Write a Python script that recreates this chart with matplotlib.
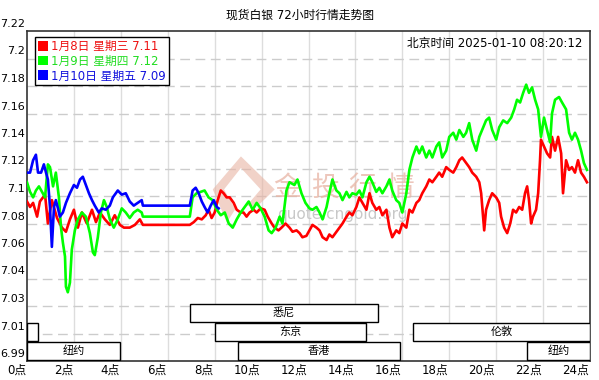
import matplotlib
matplotlib.use('Agg')
import matplotlib.pyplot as plt
from matplotlib.patches import Rectangle, Patch, Polygon
from matplotlib.transforms import ScaledTranslation

plt.rcParams['font.family'] = ['DejaVu Sans', 'Noto Sans CJK SC']

# 1月8日 (红)
red_h = [0, 0.13, 0.26, 0.43, 0.55, 0.77, 0.89, 1.06, 1.28, 1.49, 1.66, 1.83, 2.0, 2.17, 2.34,
         2.55, 2.77, 2.94, 3.11, 3.32, 3.53, 3.74, 3.96, 4.13, 4.38, 4.6, 4.81, 4.94, 6.94,
         7.11, 7.28, 7.45, 7.62, 7.74, 7.87, 8.0, 8.13, 8.26, 8.38, 8.51, 8.64, 8.81, 8.94,
         9.11, 9.23, 9.36, 9.49, 9.66, 9.79, 9.96, 10.13, 10.26, 10.43, 10.55, 10.72, 10.85,
         11.02, 11.19, 11.32, 11.49, 11.62, 11.74, 11.91, 12.04, 12.17, 12.34, 12.47, 12.6,
         12.77, 12.89, 13.02, 13.19, 13.32, 13.45, 13.62, 13.74, 13.87, 14.04, 14.17, 14.3,
         14.47, 14.6, 14.72, 14.89, 15.02, 15.15, 15.32, 15.45, 15.57, 15.74, 15.87, 16.0,
         16.17, 16.3, 16.43, 16.6, 16.72, 16.85, 17.02, 17.15, 17.28, 17.45, 17.57, 17.7,
         17.87, 18.0, 18.17, 18.3, 18.43, 18.55, 18.72, 18.85, 18.98, 19.15, 19.28, 19.36,
         19.45, 19.49, 19.57, 19.7, 19.83, 20.0, 20.13, 20.21, 20.34, 20.47, 20.6, 20.72,
         20.85, 20.98, 21.11, 21.23, 21.32, 21.4, 21.49, 21.57, 21.7, 21.79, 21.87, 21.91,
         22.04, 22.17, 22.3, 22.38, 22.51, 22.64, 22.77, 22.85, 22.98, 23.11, 23.23, 23.36,
         23.49, 23.62, 23.74, 23.87]
red_p = [7.096, 7.092, 7.095, 7.085, 7.096, 7.101, 7.080, 7.097, 7.084, 7.077, 7.074, 7.083,
         7.090, 7.077, 7.088, 7.080, 7.090, 7.081, 7.088, 7.083, 7.079, 7.086, 7.079, 7.077,
         7.077, 7.079, 7.083, 7.079, 7.079,
         7.081, 7.084, 7.083, 7.086, 7.090, 7.084, 7.088, 7.097, 7.104, 7.102, 7.099, 7.099,
         7.095, 7.090, 7.088, 7.088, 7.085, 7.088, 7.090, 7.088, 7.091, 7.090, 7.085, 7.080,
         7.077, 7.075, 7.077, 7.080, 7.077, 7.074, 7.075, 7.073, 7.070, 7.071, 7.075, 7.079,
         7.077, 7.075, 7.070, 7.068, 7.072, 7.070, 7.074, 7.077, 7.080, 7.085, 7.088, 7.086,
         7.092, 7.099, 7.095, 7.090, 7.102, 7.095, 7.090, 7.092, 7.086, 7.090, 7.077, 7.070,
         7.075, 7.073, 7.080, 7.077, 7.090, 7.088, 7.095, 7.097, 7.102, 7.107, 7.112, 7.110,
         7.114, 7.117, 7.114, 7.121, 7.119, 7.117, 7.121, 7.126, 7.128, 7.124, 7.121, 7.117,
         7.114, 7.110, 7.102, 7.083, 7.075, 7.090, 7.097, 7.102, 7.099, 7.095, 7.085, 7.077,
         7.073, 7.080, 7.090, 7.088, 7.092, 7.090, 7.102, 7.107, 7.097, 7.080, 7.085, 7.090,
         7.102, 7.126, 7.141, 7.136, 7.131, 7.128, 7.143, 7.133, 7.143, 7.131, 7.102, 7.126,
         7.119, 7.121, 7.117, 7.126, 7.117, 7.114, 7.110]

# 1月9日 (绿)
green_h = [0, 0.13, 0.26, 0.38, 0.51, 0.64, 0.77, 0.89, 0.98, 1.11, 1.23, 1.36, 1.45, 1.53,
           1.62, 1.66, 1.74, 1.83, 1.91, 2.04, 2.17, 2.34, 2.51, 2.68, 2.81, 2.89, 3.02, 3.15,
           3.28, 3.4, 3.53, 3.7, 3.87, 4.04, 4.21, 4.38, 4.55, 4.72, 4.89, 4.94, 6.94,
           7.06, 7.23, 7.4, 7.57, 7.74, 7.91, 8.09, 8.26, 8.43, 8.6, 8.77, 8.94, 9.11, 9.28,
           9.45, 9.62, 9.79, 9.96, 10.13, 10.3, 10.43, 10.6, 10.77, 10.89, 11.06, 11.19, 11.4,
           11.53, 11.7, 11.87, 12.04, 12.17, 12.34, 12.47, 12.6, 12.77, 12.89, 13.02, 13.19,
           13.32, 13.45, 13.62, 13.74, 13.87, 14.04, 14.17, 14.3, 14.47, 14.6, 14.72, 14.89,
           15.02, 15.15, 15.32, 15.45, 15.57, 15.74, 15.87, 16.0, 16.17, 16.3, 16.43, 16.6,
           16.72, 16.85, 17.02, 17.15, 17.28, 17.45, 17.57, 17.7, 17.87, 18.0, 18.17, 18.3,
           18.43, 18.6, 18.72, 18.85, 18.98, 19.15, 19.28, 19.45, 19.57, 19.7, 19.83, 20.0,
           20.13, 20.3, 20.47, 20.64, 20.77, 20.89, 21.02, 21.15, 21.28, 21.4, 21.53, 21.66,
           21.79, 21.91, 22.04, 22.17, 22.3, 22.38, 22.51, 22.68, 22.81, 22.98, 23.11, 23.23,
           23.36, 23.49, 23.62, 23.74, 23.87]
green_p = [7.110, 7.103, 7.099, 7.104, 7.107, 7.103, 7.099, 7.123, 7.121, 7.107, 7.117, 7.099,
           7.077, 7.066, 7.056, 7.034, 7.030, 7.037, 7.061, 7.075, 7.083, 7.088, 7.085, 7.073,
           7.059, 7.057, 7.070, 7.088, 7.097, 7.092, 7.083, 7.077, 7.083, 7.091, 7.088, 7.084,
           7.088, 7.090, 7.088, 7.085, 7.085,
           7.099, 7.102, 7.103, 7.104, 7.099, 7.097, 7.090, 7.086, 7.088, 7.080, 7.077, 7.083,
           7.088, 7.092, 7.096, 7.090, 7.095, 7.091, 7.085, 7.075, 7.073, 7.077, 7.085, 7.080,
           7.104, 7.110, 7.108, 7.112, 7.102, 7.095, 7.091, 7.090, 7.092, 7.088, 7.083, 7.092,
           7.102, 7.112, 7.104, 7.102, 7.097, 7.103, 7.099, 7.102, 7.101, 7.104, 7.099, 7.110,
           7.114, 7.110, 7.103, 7.106, 7.102, 7.107, 7.112, 7.104, 7.097, 7.095, 7.088, 7.102,
           7.119, 7.128, 7.136, 7.131, 7.136, 7.128, 7.133, 7.128, 7.136, 7.139, 7.128, 7.133,
           7.143, 7.146, 7.141, 7.148, 7.143, 7.146, 7.153, 7.141, 7.133, 7.143, 7.150, 7.155,
           7.157, 7.148, 7.141, 7.150, 7.155, 7.153, 7.157, 7.163, 7.170, 7.168, 7.175, 7.181,
           7.175, 7.179, 7.170, 7.163, 7.143, 7.157, 7.148, 7.139, 7.160, 7.170, 7.172, 7.168,
           7.163, 7.146, 7.141, 7.146, 7.141, 7.133, 7.124, 7.119]

# 1月10日 (蓝)
blue_h = [0, 0.13, 0.26, 0.38, 0.47, 0.6, 0.72, 0.81, 0.89, 0.98, 1.06, 1.15, 1.23, 1.32,
          1.4, 1.53, 1.66, 1.83, 2.0, 2.13, 2.26, 2.38, 2.51, 2.64, 2.77, 2.89, 3.06, 3.19,
          3.36, 3.53, 3.66, 3.87, 4.04, 4.21, 4.38, 4.55, 4.72, 4.89, 4.94, 6.94,
          7.06, 7.19, 7.32, 7.45, 7.57, 7.7, 7.83, 7.96, 8.09, 8.17]
blue_p = [7.117, 7.117, 7.126, 7.130, 7.117, 7.117, 7.123, 7.117, 7.112, 7.092, 7.063, 7.092,
          7.097, 7.091, 7.085, 7.088, 7.095, 7.102, 7.108, 7.106, 7.112, 7.114, 7.108, 7.102,
          7.097, 7.093, 7.088, 7.091, 7.090, 7.093, 7.099, 7.104, 7.101, 7.102, 7.096, 7.093,
          7.095, 7.097, 7.093, 7.093,
          7.104, 7.106, 7.102, 7.096, 7.092, 7.088, 7.093, 7.097, 7.092, 7.091]

legend_labels = ['1月8日 星期三 7.11', '1月9日 星期四 7.12', '1月10日 星期五 7.09']
colors = ['#ff0000', '#00ff00', '#0000ff']
text_colors = ['#ee1111', '#22dd22', '#1111dd']

yticks = [6.98, 7.00, 7.02, 7.04, 7.06, 7.08, 7.10, 7.12, 7.14, 7.16, 7.18, 7.20, 7.22]
ytick_labels = ['6.99', '7.01', '7.03', '7.04', '7.06', '7.08', '7.1', '7.12', '7.14',
                '7.16', '7.18', '7.2', '7.22']
xticks = list(range(0, 25, 2))
xtick_labels = [str(h) + '点' for h in xticks]

# 交易时段 (名称, 开始, 结束, 行)
sessions = [('悉尼', 6.95, 14.95, 0),
            ('', 0, 0.47, 1), ('东京', 8.0, 14.45, 1), ('伦敦', 16.47, 24, 1),
            ('纽约', 0, 3.96, 2), ('香港', 9.0, 15.9, 2), ('纽约', 21.3, 24, 2)]
row_tops = [7.0215, 7.0077, 6.9939]
row_height = 0.0131

fig = plt.figure(figsize=(5.99, 3.80), dpi=100)
ax = fig.add_axes([27 / 599, 19 / 380, 563 / 599, 330 / 380])

ax.set_xlim(0, 24)
ax.set_ylim(6.98, 7.22)

for x in xticks[1:-1]:
    ax.axvline(x, color='#dddddd', lw=1, zorder=0)
for y in yticks[1:-1]:
    ax.axhline(y, color='#cccccc', lw=1, dashes=(7, 4), zorder=0)

# 水印
for i, ch in enumerate('金投行情'):
    ax.text(0.437 + i * 0.067, 0.525, ch, transform=ax.transAxes, fontsize=20,
            color='#e8b4a4', alpha=0.75, va='center', ha='left', zorder=1)
ax.text(0.445, 0.445, 'quote.cngold.org', transform=ax.transAxes, fontsize=11,
        color='#c8c8c8', va='center', ha='left', zorder=1)
logo = Polygon([[0.33, 0.52], [0.38, 0.62], [0.44, 0.52], [0.41, 0.47], [0.39, 0.47],
                [0.415, 0.52], [0.38, 0.585], [0.35, 0.52], [0.37, 0.46], [0.355, 0.42]],
               closed=True, transform=ax.transAxes, facecolor='#e8b4a4', edgecolor='none',
               alpha=0.6, zorder=1)
ax.add_patch(logo)

ax.plot(red_h, red_p, color=colors[0], lw=1.9, zorder=3)
ax.plot(green_h, green_p, color=colors[1], lw=1.9, zorder=4)
ax.plot(blue_h, blue_p, color=colors[2], lw=1.9, zorder=5)

for name, start, end, row in sessions:
    top = row_tops[row]
    ax.add_patch(Rectangle((start, top - row_height), end - start, row_height,
                           facecolor='white', edgecolor='black', lw=1, zorder=6))
    if name:
        ax.text((start + end) / 2, top - row_height / 2, name, ha='center', va='center',
                fontsize=8, color='black', zorder=7)

ax.set_xticks(xticks)
ax.set_xticklabels(xtick_labels, fontsize=8.5, ha='right')
ax.set_yticks(yticks)
ax.set_yticklabels(ytick_labels, fontsize=8)
ax.tick_params(length=0, pad=2)
ax.tick_params(axis='y', pad=1.5)
for lab in ax.get_yticklabels():
    lab.set_transform(lab.get_transform() + ScaledTranslation(0, 0.08, fig.dpi_scale_trans))
for lab in ax.get_xticklabels():
    lab.set_transform(lab.get_transform() + ScaledTranslation(-0.01, 0, fig.dpi_scale_trans))

for s in ax.spines.values():
    s.set_color('#333333')
    s.set_linewidth(1.2)

handles = [Patch(facecolor=c, edgecolor='none') for c in colors]
leg = ax.legend(handles, legend_labels, loc='upper left', bbox_to_anchor=(0.014, 0.982),
                borderaxespad=0, fontsize=8.5, labelcolor=text_colors, frameon=True,
                fancybox=False, edgecolor='black', framealpha=1, handlelength=0.9,
                handleheight=0.9, handletextpad=0.2, labelspacing=0.15, borderpad=0.25)
leg.get_frame().set_linewidth(1)
leg.set_zorder(8)

ax.text(0.986, 0.961, '北京时间 2025-01-10 08:20:12', transform=ax.transAxes, ha='right',
        va='center', fontsize=8.5, color='black', zorder=8)
fig.text(0.5, 0.961, '现货白银 72小时行情走势图', ha='center', va='center', fontsize=8.5)

fig.savefig('out.png', dpi=100)
